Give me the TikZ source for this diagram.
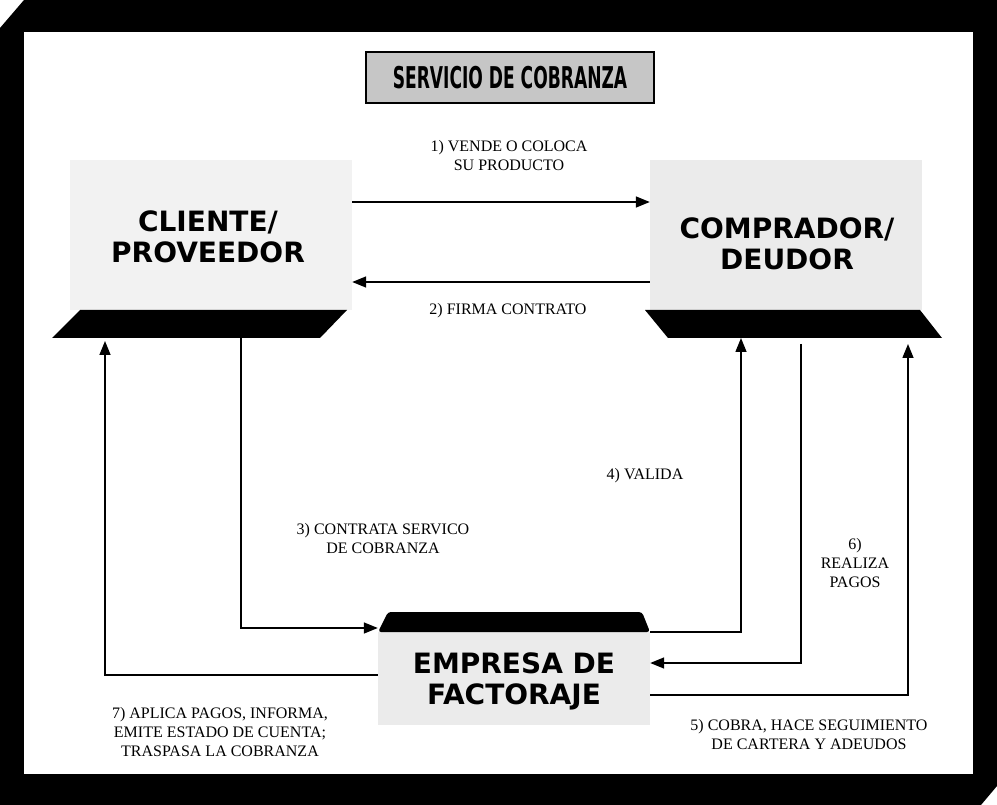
\documentclass[tikz,border=0pt]{standalone}
\usepackage{graphicx}
\usepackage{fontspec}
\setmainfont{Liberation Serif}
\newfontfamily\heavy{DejaVu Sans}
\usetikzlibrary{arrows.meta}
\begin{document}
\begin{tikzpicture}[x=1pt,y=-1pt,
  arr/.style={line width=1.5pt,-{Triangle[length=14pt,width=11pt]}},
  lbl/.style={font=\fontsize{16}{19}\selectfont, align=center, inner sep=0pt},
  big/.style={font=\heavy\bfseries\fontsize{28}{31}\selectfont, align=center, inner sep=0pt},
  panel/.style={fill=gray!10, inner sep=0pt, draw=none},
  slab/.style={fill=black}]
\useasboundingbox (0,0) rectangle (997,805);
% frame
\fill[black] (24,0) -- (997,0) -- (997,786) -- (981,805) -- (0,805) -- (0,28) -- cycle;
\fill[white] (24,32) rectangle (973,774);
% title
\node[draw=black, line width=1.5pt, fill=gray!45, minimum width=288pt, minimum height=51pt, inner sep=0pt] (titulo) at (510,77.5)
  {\heavy\bfseries\fontsize{30}{30}\selectfont\scalebox{0.57}[1]{SERVICIO DE COBRANZA}};
% panels
\node[panel, minimum width=282pt, minimum height=150pt] (cliente) at (211,235) {};
\node[panel, fill=gray!16, minimum width=272pt, minimum height=150pt] (comprador) at (786,235) {};
\node[panel, fill=gray!16, minimum width=272pt, minimum height=93pt] (empresa) at (514,678.5) {};
% slabs
\fill[slab] (80,310) -- (347,310) -- (320,338) -- (52,338) -- cycle;
\fill[slab] (645,310) -- (920,310) -- (942,338) -- (668,338) -- cycle;
\fill[slab, rounded corners=3pt] (388,612) -- (642,612) -- (650,632) -- (378,632) -- cycle;
% texts
\node[big] (clientet) at (208,237) {CLIENTE/\\PROVEEDOR};
\node[big] (compradort) at (787,244) {COMPRADOR/\\DEUDOR};
\node[big] (empresat) at (514,681) {EMPRESA DE\\FACTORAJE};
% connector ends on the slabs
\coordinate (p3) at (241,338);
\coordinate (p4) at (741,338);
\coordinate (p5) at (908,344);
\coordinate (p6) at (801,344);
\coordinate (p7) at (105,341);
% connectors
\draw[arr] (cliente.east |- 0,202) -- (comprador.west |- 0,202);
\draw[arr] (comprador.west |- 0,282) -- (cliente.east |- 0,282);
\draw[arr] (p3) |- (empresa.north west |- 0,628);
\draw[arr] (empresa.north east) -| (p4);
\draw[arr] (p6) |- (empresa.east |- 0,663);
\draw[arr] (empresa.east |- 0,695) -| (p5);
\draw[arr] (empresa.west |- 0,675) -| (p7);
% labels
\node[lbl] (l1) at (509,156) {1) VENDE O COLOCA\\SU PRODUCTO};
\node[lbl] (l2) at (508,311) {2) FIRMA CONTRATO};
\node[lbl] (l3) at (383,539) {3) CONTRATA SERVICO\\DE COBRANZA};
\node[lbl] (l4) at (645,476) {4) VALIDA};
\node[lbl] (l5) at (809,735) {5) COBRA, HACE SEGUIMIENTO\\DE CARTERA Y ADEUDOS};
\node[lbl] (l6) at (855,563) {6)\\REALIZA\\PAGOS};
\node[lbl] (l7) at (220,732) {7) APLICA PAGOS, INFORMA,\\EMITE ESTADO DE CUENTA;\\TRASPASA LA COBRANZA};
\end{tikzpicture}
\end{document}
